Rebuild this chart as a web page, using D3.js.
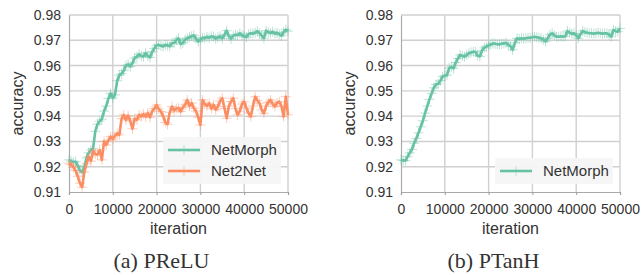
<!DOCTYPE html>
<html>
<head>
<meta charset="utf-8">
<script src="https://cdn.jsdelivr.net/npm/d3@7"></script>
<style>
  body { margin: 0; background: #fff; }
  svg text { font-family: "Liberation Sans", Arial, sans-serif; fill: #333; }
  .caption { font-family: "Liberation Serif", "Times New Roman", serif; }
</style>
</head>
<body>
<div id="chart"></div>
<script>
// iterations, every 500
const iterations = d3.range(0, 50001, 500);
const yTicks = [0.91, 0.92, 0.93, 0.94, 0.95, 0.96, 0.97, 0.98];
const xTicks = [0, 10000, 20000, 30000, 40000, 50000];

// (a) PReLU
const preluNetMorph = [
  0.9227, 0.9222, 0.9218, 0.9220, 0.9205, 0.9185, 0.9178, 0.9200, 0.9235, 0.9255,
  0.9266, 0.9272, 0.9340, 0.9368, 0.9380, 0.9388, 0.9420, 0.9440, 0.9470, 0.9490,
  0.9472, 0.9484, 0.9540, 0.9562, 0.9568, 0.9580, 0.9600, 0.9605, 0.9596, 0.9610,
  0.9630, 0.9635, 0.9645, 0.9638, 0.9635, 0.9650, 0.9638, 0.9632, 0.9655, 0.9668,
  0.9680, 0.9682, 0.9678, 0.9675, 0.9682, 0.9680, 0.9676, 0.9688, 0.9690, 0.9700,
  0.9708, 0.9685, 0.9690, 0.9702, 0.9708, 0.9712, 0.9716, 0.9720, 0.9706, 0.9695,
  0.9702, 0.9710, 0.9708, 0.9714, 0.9710, 0.9716, 0.9714, 0.9706, 0.9712, 0.9716,
  0.9708, 0.9722, 0.9738, 0.9716, 0.9706, 0.9718, 0.9722, 0.9720, 0.9728, 0.9720,
  0.9716, 0.9712, 0.9724, 0.9728, 0.9726, 0.9730, 0.9736, 0.9728, 0.9718, 0.9708,
  0.9738, 0.9732, 0.9728, 0.9734, 0.9726, 0.9730, 0.9724, 0.9718, 0.9732, 0.9742,
  0.9736
];
const preluNet2Net = [
  0.9214, 0.9208, 0.9198, 0.9185, 0.9162, 0.9135, 0.9119, 0.9180, 0.9212, 0.9240,
  0.9222, 0.9262, 0.9250, 0.9247, 0.9266, 0.9227, 0.9300, 0.9286, 0.9305, 0.9319,
  0.9309, 0.9322, 0.9332, 0.9326, 0.9390, 0.9405, 0.9385, 0.9402, 0.9380, 0.9350,
  0.9390, 0.9385, 0.9405, 0.9398, 0.9408, 0.9398, 0.9412, 0.9395, 0.9420, 0.9430,
  0.9444, 0.9428, 0.9418, 0.9400, 0.9375, 0.9368, 0.9415, 0.9438, 0.9422, 0.9430,
  0.9432, 0.9418, 0.9435, 0.9445, 0.9464, 0.9440, 0.9452, 0.9431, 0.9420, 0.9395,
  0.9365, 0.9464, 0.9448, 0.9440, 0.9451, 0.9430, 0.9445, 0.9425, 0.9438, 0.9460,
  0.9471, 0.9430, 0.9392, 0.9440, 0.9458, 0.9471, 0.9430, 0.9405, 0.9420, 0.9448,
  0.9457, 0.9432, 0.9412, 0.9398, 0.9440, 0.9477, 0.9462, 0.9451, 0.9425, 0.9411,
  0.9440, 0.9455, 0.9464, 0.9448, 0.9438, 0.9452, 0.9457, 0.9440, 0.9398, 0.9477,
  0.9405
];

// (b) PTanH
const ptanhNetMorph = [
  0.9227, 0.9225, 0.9224, 0.9240, 0.9255, 0.9268, 0.9293, 0.9312, 0.9334, 0.9358,
  0.9382, 0.9412, 0.9440, 0.9466, 0.9490, 0.9512, 0.9525, 0.9528, 0.9540, 0.9556,
  0.9560, 0.9563, 0.9590, 0.9594, 0.9589, 0.9612, 0.9628, 0.9642, 0.9638, 0.9635,
  0.9642, 0.9648, 0.9652, 0.9655, 0.9654, 0.9640, 0.9636, 0.9660, 0.9670, 0.9675,
  0.9680, 0.9684, 0.9688, 0.9686, 0.9684, 0.9684, 0.9686, 0.9688, 0.9690, 0.9682,
  0.9676, 0.9662, 0.9690, 0.9708, 0.9705, 0.9708, 0.9706, 0.9708, 0.9710, 0.9710,
  0.9712, 0.9714, 0.9712, 0.9710, 0.9708, 0.9702, 0.9695, 0.9708, 0.9722, 0.9728,
  0.9720, 0.9714, 0.9714, 0.9716, 0.9714, 0.9716, 0.9737, 0.9730, 0.9726, 0.9728,
  0.9720, 0.9708, 0.9725, 0.9737, 0.9732, 0.9730, 0.9728, 0.9728, 0.9726, 0.9728,
  0.9730, 0.9728, 0.9726, 0.9728, 0.9728, 0.9722, 0.9714, 0.9741, 0.9736, 0.9734,
  0.9747
];

const colorMorph = '#66c2a5';
const colorNet2Net = '#fc8d62';

const svg = d3.select('#chart').append('svg')
  .attr('width', 643)
  .attr('height', 275);

function drawPanel(left, caption, series) {
  const margin = { top: 15, left: left };
  const width = 219;
  const height = 177;

  const g = svg.append('g')
    .attr('transform', `translate(${margin.left},${margin.top})`);

  const x = d3.scaleLinear().domain([0, 50000]).range([0, width]);
  const y = d3.scaleLinear().domain([0.91, 0.98]).range([height, 0]);

  // grid
  g.append('g')
    .selectAll('line.vgrid')
    .data(xTicks.slice(1))
    .enter().append('line')
    .attr('x1', d => x(d)).attr('x2', d => x(d))
    .attr('y1', 0).attr('y2', height)
    .attr('stroke', '#d0d0d0')
    .attr('stroke-width', 1.4);

  g.append('g')
    .selectAll('line.hgrid')
    .data(yTicks.slice(1))
    .enter().append('line')
    .attr('x1', 0).attr('x2', width)
    .attr('y1', d => y(d)).attr('y2', d => y(d))
    .attr('stroke', '#d0d0d0')
    .attr('stroke-width', 1.4);

  // axes
  const xAxis = g.append('g')
    .attr('transform', `translate(0,${height})`)
    .call(d3.axisBottom(x).tickValues(xTicks).tickFormat(d3.format('d')).tickSize(3).tickPadding(9));
  const yAxis = g.append('g')
    .call(d3.axisLeft(y).tickValues(yTicks).tickFormat(d3.format('.2f')).tickSize(0).tickPadding(8));

  [xAxis, yAxis].forEach(ax => {
    ax.select('.domain').attr('stroke', '#aaa').attr('stroke-width', 1.2);
    ax.selectAll('.tick line').attr('stroke', '#999');
    ax.selectAll('.tick text')
      .style('font-size', '14px')
      .style('font-family', '"Liberation Sans", Arial, sans-serif')
      .attr('fill', '#333');
  });

  // lines
  const line = d3.line()
    .x((d, i) => x(iterations[i]))
    .y(d => y(d));

  series.forEach(s => {
    const markers = g.append('g')
      .attr('stroke', s.color)
      .attr('stroke-opacity', 0.45)
      .attr('stroke-width', 1);
    markers.selectAll('path')
      .data(s.values)
      .enter().append('path')
      .attr('d', (d, i) => {
        const px = x(iterations[i]), py = y(d);
        return `M${px - 5},${py}H${px + 5}M${px},${py - 5}V${py + 5}`;
      });

    g.append('path')
      .datum(s.values)
      .attr('fill', 'none')
      .attr('stroke', s.color)
      .attr('stroke-width', 2.6)
      .attr('stroke-linejoin', 'round')
      .attr('d', line);
  });

  // legend
  const legW = 118;
  const legH = series.length * 21 + 5;
  const legX = width - 7 - legW;
  const legY = height - 8 - legH;
  const legend = g.append('g')
    .attr('transform', `translate(${legX},${legY})`);

  legend.append('rect')
    .attr('width', legW)
    .attr('height', legH)
    .attr('fill', '#f5f5f5')
    .attr('opacity', 0.95);

  const item = legend.selectAll('.legend')
    .data(series)
    .enter().append('g')
    .attr('class', 'legend')
    .attr('transform', (d, i) => `translate(0, ${13 + i * 21})`);

  item.append('line')
    .attr('x1', 5).attr('x2', 37)
    .attr('stroke', d => d.color)
    .attr('stroke-width', 2.6);

  item.append('path')
    .attr('d', 'M16,0H26M21,-5V5')
    .attr('stroke', d => d.color)
    .attr('stroke-opacity', 0.4);

  item.append('text')
    .attr('x', 48)
    .attr('dy', '0.35em')
    .style('font-size', '15px')
    .text(d => d.label);

  // labels
  g.append('text')
    .attr('x', width / 2)
    .attr('y', height + 42)
    .attr('text-anchor', 'middle')
    .style('font-size', '16px')
    .text('iteration');

  g.append('text')
    .attr('transform', `translate(${-46},${height / 2}) rotate(-90)`)
    .attr('text-anchor', 'middle')
    .style('font-size', '16px')
    .text('accuracy');

  g.append('text')
    .attr('class', 'caption')
    .attr('x', width / 2 - 17)
    .attr('y', 253)
    .attr('text-anchor', 'middle')
    .style('font-size', '22px')
    .style('font-family', '"Liberation Serif", "Times New Roman", serif')
    .attr('fill', '#000')
    .text(caption);
}

drawPanel(69, '(a) PReLU', [
  { label: 'NetMorph', color: colorMorph, values: preluNetMorph },
  { label: 'Net2Net', color: colorNet2Net, values: preluNet2Net }
]);

drawPanel(401, '(b) PTanH', [
  { label: 'NetMorph', color: colorMorph, values: ptanhNetMorph }
]);
</script>
</body>
</html>
